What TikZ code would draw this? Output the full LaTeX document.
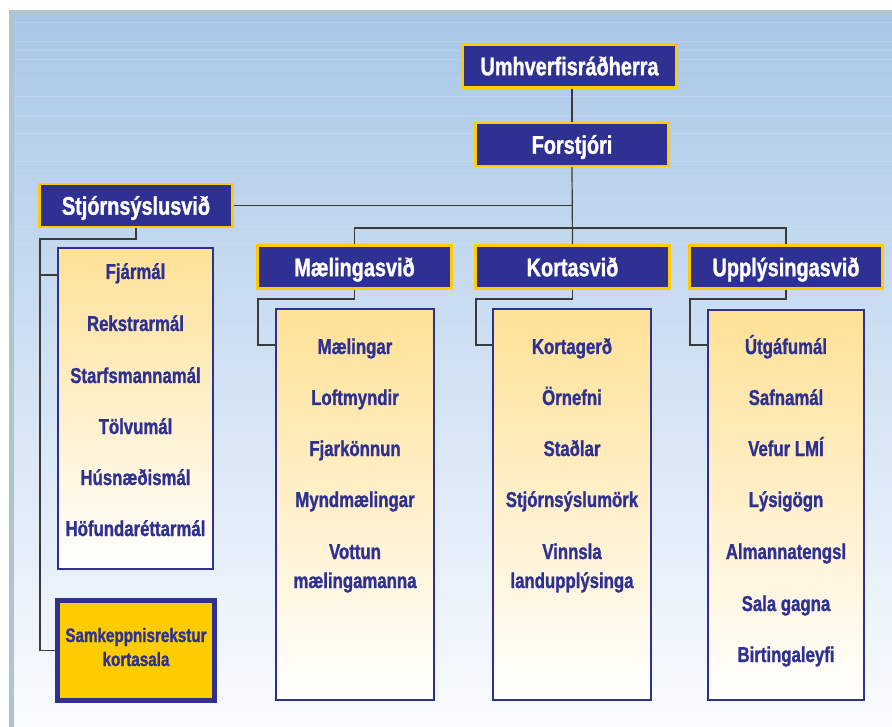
\documentclass[tikz,border=0pt]{standalone}
\usepackage{fontspec}
\newfontfamily\hf[FakeStretch=0.78,FakeBold=1.2]{Liberation Sans}
\usetikzlibrary{calc}
\definecolor{navy}{HTML}{2E3192}
\definecolor{gold}{HTML}{FFCC00}
\definecolor{frameblue}{HTML}{AEC5CD}
\definecolor{bgtop}{HTML}{A8C7E7}
\definecolor{bgbot}{HTML}{FAFCFF}
\definecolor{paleyel}{HTML}{FFE196}
\definecolor{linegray}{HTML}{3A3A3A}
\begin{document}
\begin{tikzpicture}[x=1pt,y=-1pt,
  hdr/.style={draw=gold, line width=2.5pt, fill=navy, text=white,
    font=\hf\bfseries\fontsize{25.5}{28}\selectfont,
    minimum height=43pt, text height=18.5pt, text depth=0pt, inner sep=0pt},
  listbox/.style={draw=navy, line width=1.5pt, top color=paleyel, bottom color=white, inner sep=0pt},
  item/.style={text=navy, font=\hf\bfseries\fontsize{21.5}{29}\selectfont, anchor=base, align=center, inner sep=0pt},
  conn/.style={draw=linegray, line width=1.2pt},
  stripe/.style={white, line width=0.8pt}
]
\useasboundingbox (0,0) rectangle (892,727);
% background
\fill[white] (0,0) rectangle (892,727);
\fill[top color=bgtop, bottom color=bgbot] (14,15) rectangle (892,727);
\foreach \yy/\op in {22/0.18,41/0.15,50/0.18,59/0.15,78/0.13,96/0.15,115/0.13,133/0.13,161/0.13,170/0.1,198/0.1,226/0.1,244/0.1,263/0.08,281/0.08,300/0.08,327/0.06,355/0.06,383/0.05,420/0.05}
  \draw[stripe, opacity=\op] (14,\yy) -- (892,\yy);
\fill[frameblue] (9,10) rectangle (892,15);
\fill[frameblue] (9,10) rectangle (14,727);

% header boxes
\node[hdr, minimum width=214pt] (umh) at (569.5,66) {Umhverfisráðherra};
\node[hdr, minimum width=193pt] (for) at (572,144.5) {Forstjóri};
\node[hdr, minimum width=193pt] (stj) at (136,205.5) {Stjórnsýslusvið};
\node[hdr, minimum width=194pt] (mae) at (354.5,267) {Mælingasvið};
\node[hdr, minimum width=194pt] (kor) at (572.5,267) {Kortasvið};
\node[hdr, minimum width=193pt] (upp) at (786,267) {Upplýsingasvið};

% list boxes
\node[listbox, minimum width=155pt, minimum height=321pt] (sbox) at (135.5,408.5) {};
\node[listbox, minimum width=158pt, minimum height=391pt] (mbox) at (355,504.5) {};
\node[listbox, minimum width=158pt, minimum height=391pt] (kbox) at (572,504.5) {};
\node[listbox, minimum width=156pt, minimum height=390pt] (ubox) at (786,505) {};
\node[draw=navy, line width=5pt, fill=gold, minimum width=157pt, minimum height=100pt, inner sep=0pt] (samk) at (136,650.5) {};

% items
\node[item] (s1) at (135.5,279) {Fjármál};
\node[item] (s2) at (135.5,331) {Rekstrarmál};
\node[item] (s3) at (135.5,383) {Starfsmannamál};
\node[item] (s4) at (135.5,434) {Tölvumál};
\node[item] (s5) at (135.5,485) {Húsnæðismál};
\node[item] (s6) at (135.5,536) {Höfundaréttarmál};

\node[item] (m1) at (355,354) {Mælingar};
\node[item] (m2) at (355,405) {Loftmyndir};
\node[item] (m3) at (355,456) {Fjarkönnun};
\node[item] (m4) at (355,507) {Myndmælingar};
\node[item] (m5) at (355,588) {Vottun\\mælingamanna};

\node[item] (k1) at (572,354) {Kortagerð};
\node[item] (k2) at (572,405) {Örnefni};
\node[item] (k3) at (572,456) {Staðlar};
\node[item] (k4) at (572,507) {Stjórnsýslumörk};
\node[item] (k5) at (572,588) {Vinnsla\\landupplýsinga};

\node[item] (u1) at (786,354) {Útgáfumál};
\node[item] (u2) at (786,405) {Safnamál};
\node[item] (u3) at (786,456) {Vefur LMÍ};
\node[item] (u4) at (786,507) {Lýsigögn};
\node[item] (u5) at (786,559) {Almannatengsl};
\node[item] (u6) at (786,611) {Sala gagna};
\node[item] (u7) at (786,662) {Birtingaleyfi};

\node[text=navy, font=\hf\bfseries\fontsize{19.5}{24}\selectfont, align=center, inner sep=0pt, anchor=base] (samkt) at (136,666) {Samkeppnisrekstur\\kortasala};

% connectors
\draw[conn] (umh.south -| for.north) -- (for.north);
\draw[conn] (for.south) -- (kor.north);
\draw[conn] (stj.east) -- (stj.east -| for.south);
\coordinate (bar) at (354.5,228);
\draw[conn] (mae.north) -- (bar) -| (upp.north);

\coordinate (selb) at (40,239);
\coordinate (sbr) at (40,275);
\draw[conn] (stj.south) |- (selb) |- (samk.west);
\draw[conn] (sbr) -- (sbox.west |- sbr);

\coordinate (melb) at (258,299);
\draw[conn] (mae.south) |- (melb) |- (mbox.west |- 0,345);
\coordinate (kelb) at (476,299);
\draw[conn] (kor.south) |- (kelb) |- (kbox.west |- 0,345);
\coordinate (uelb) at (690,299);
\draw[conn] (upp.south) |- (uelb) |- (ubox.west |- 0,345);
\end{tikzpicture}
\end{document}
